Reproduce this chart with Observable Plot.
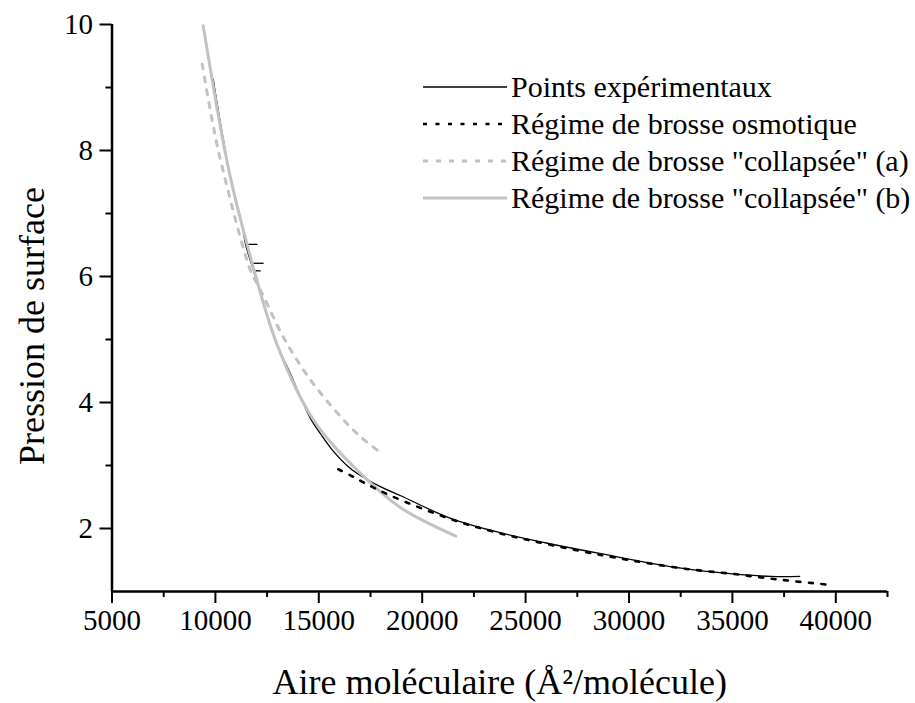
<!DOCTYPE html>
<html><head><meta charset="utf-8">
<script src="https://cdn.jsdelivr.net/npm/d3@7"></script>
<script src="https://cdn.jsdelivr.net/npm/@observablehq/plot@0.6"></script>
<style>
body{margin:0;background:#fff;}
#wrap{position:relative;width:915px;height:703px;font-family:"Liberation Serif","Times New Roman",serif;}
#wrap svg text{font-family:"Liberation Serif","Times New Roman",serif;}
#legend{position:absolute;left:423px;top:68px;}
.row{display:flex;align-items:center;height:37px;font-size:30px;white-space:nowrap;color:#000;}
.row svg{width:84px;height:12px;margin-right:4px;flex:none;}
</style></head><body><div id="wrap"><div id="legend"></div></div>
<script>
// ---- data ----
const seriesNames = ["Points expérimentaux", "Régime de brosse osmotique", "Régime de brosse \"collapsée\" (a)", "Régime de brosse \"collapsée\" (b)"];
const xTitle = "Aire moléculaire (Å²/molécule)";
const yTitle = "Pression de surface";
const xMajorTicks = [5000, 10000, 15000, 20000, 25000, 30000, 35000, 40000];
const xMinorTicks = [7500, 12500, 17500, 22500, 27500, 32500, 37500, 42500];
const yMajorTicks = [2, 4, 6, 8, 10];
const yMinorTicks = [3, 5, 7, 9];

// experimental isotherm
const expArea = [9900, 10010, 10740, 11300, 11460, 11730, 11850, 12970, 13640, 14120, 14610, 15090, 15720, 16500, 17170, 18000, 18960, 21380, 23800, 26000, 28640, 32520, 35000, 36850, 38250];
const expPressure = [9.13, 8.89, 7.55, 6.80, 6.51, 6.21, 6.09, 4.93, 4.45, 4.08, 3.74, 3.50, 3.22, 2.96, 2.81, 2.66, 2.52, 2.16, 1.93, 1.77, 1.60, 1.37, 1.28, 1.24, 1.24];
// short excursions of the experimental trace
const spikeAreaStart = [11460, 11730, 11850];
const spikeAreaEnd = [12030, 12330, 12190];
const spikePressure = [6.51, 6.21, 6.09];
// osmotic brush fit
const osmArea = [15940, 16550, 17170, 18480, 21380, 23800, 28640, 32520, 35000, 37500, 39880];
const osmPressure = [2.94, 2.84, 2.73, 2.52, 2.15, 1.92, 1.58, 1.37, 1.28, 1.18, 1.10];
// collapsed brush fit (a)
const collAArea = [9360, 9850, 10260, 11700, 12030, 12350, 13330, 14640, 16100, 17070, 18050];
const collAPressure = [9.37, 8.47, 7.83, 6.09, 5.88, 5.67, 5.01, 4.34, 3.76, 3.44, 3.19];
// collapsed brush fit (b)
const collBArea = [9410, 10260, 10740, 11300, 12970, 14770, 17030, 18960, 21620];
const collBPressure = [9.98, 8.34, 7.55, 6.80, 4.93, 3.71, 2.87, 2.33, 1.88];

const toRows = (xs, ys) => xs.map((a, i) => ({a, p: ys[i]}));
const expData = toRows(expArea, expPressure);
const spikeData = spikePressure.map((p, i) => ({a0: spikeAreaStart[i], a1: spikeAreaEnd[i], p}));
const osmData = toRows(osmArea, osmPressure);
const collAData = toRows(collAArea, collAPressure);
const collBData = toRows(collBArea, collBPressure);

const GRAY = "#c2c2c2";
const FONT = "Liberation Serif";
const styles = [
  {stroke: "#000", strokeWidth: 1.3, dash: null},
  {stroke: "#000", strokeWidth: 2.6, dash: "4,8.5"},
  {stroke: GRAY, strokeWidth: 3, dash: "5,8"},
  {stroke: GRAY, strokeWidth: 3, dash: null}
];
const lineOpts = (s) => ({x: "a", y: "p", curve: "catmull-rom", stroke: s.stroke, strokeWidth: s.strokeWidth, strokeDasharray: s.dash ?? undefined});

const fmt = d3.format("d");
const chart = Plot.plot({
  width: 915, height: 703,
  marginLeft: 111.5, marginRight: 28, marginTop: 24, marginBottom: 112,
  style: {fontFamily: "'Liberation Serif', 'Times New Roman', serif", background: "white", color: "black", overflow: "visible"},
  x: {domain: [5000, 42500]},
  y: {domain: [1, 10]},
  marks: [
    Plot.axisX({ticks: xMinorTicks, tickSize: 6, tickFormat: () => "", strokeWidth: 2, label: null}),
    Plot.axisX({ticks: xMajorTicks, tickSize: 12, tickPadding: 6, tickFormat: fmt, strokeWidth: 2, fontSize: 29, fontFamily: FONT, fontVariant: "normal", label: null}),
    Plot.axisY({ticks: yMinorTicks, tickSize: 6, tickFormat: () => "", strokeWidth: 2, label: null}),
    Plot.axisY({ticks: yMajorTicks, tickSize: 12, tickPadding: 7, tickFormat: fmt, strokeWidth: 2, fontSize: 29, fontFamily: FONT, fontVariant: "normal", label: null}),
    Plot.ruleY([1], {strokeWidth: 2.5}),
    Plot.ruleX([5000], {strokeWidth: 2.5}),
    Plot.line(expData, lineOpts(styles[0])),
    Plot.link(spikeData, {x1: "a0", x2: "a1", y1: "p", y2: "p", stroke: "#000", strokeWidth: 1.3}),
    Plot.line(collBData, lineOpts(styles[3])),
    Plot.line(collAData, lineOpts(styles[2])),
    Plot.line(osmData, lineOpts(styles[1])),
    Plot.text([xTitle], {frameAnchor: "bottom", textAnchor: "middle", lineAnchor: "middle", dy: 91, fontSize: 36, fontFamily: FONT, text: d => d}),
    Plot.text([yTitle], {frameAnchor: "left", textAnchor: "middle", lineAnchor: "middle", dx: -80, dy: 18, rotate: -90, fontSize: 36, fontFamily: FONT, text: d => d})
  ]
});
document.getElementById("wrap").prepend(chart);

// legend
const legend = document.getElementById("legend");
seriesNames.forEach((name, i) => {
  const s = styles[i];
  const row = document.createElement("div");
  row.className = "row";
  row.innerHTML = `<svg viewBox="0 0 84 12"><line x1="0" x2="84" y1="6" y2="6" stroke="${s.stroke}" stroke-width="${s.strokeWidth}" ${s.dash ? `stroke-dasharray="${s.dash}"` : ""}/></svg><span></span>`;
  row.querySelector("span").textContent = name;
  legend.appendChild(row);
});
</script>
</body></html>
